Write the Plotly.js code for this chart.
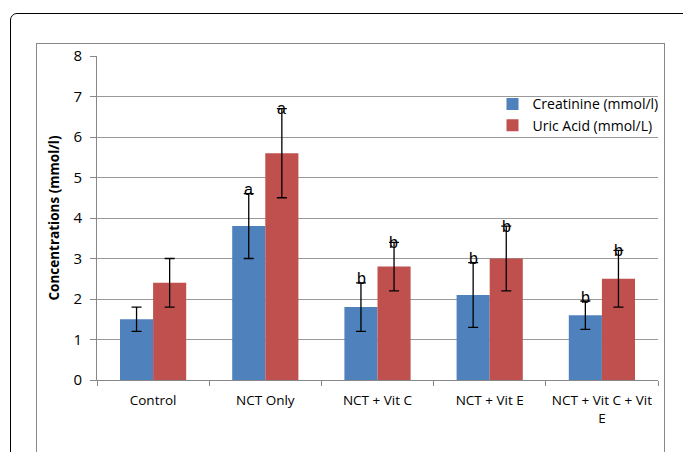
<!DOCTYPE html>
<html><head><meta charset="utf-8">
<script src="https://cdn.plot.ly/plotly-3.0.1.min.js"></script>
<style>
body{margin:0;padding:0;background:#fff;}
#wrap{position:relative;width:683px;height:452px;overflow:hidden;}
#outer{position:absolute;left:10px;top:13px;width:700px;height:500px;border:1.5px solid #000;border-radius:7px;}
#inner{position:absolute;left:36px;top:43px;width:627px;height:500px;border:1px solid #888;}
#chart{position:absolute;left:0;top:0;width:683px;height:452px;}
</style></head>
<body><div id="wrap"><div id="outer"></div><div id="inner"></div><div id="chart"></div></div>
<script>
var categories = ["Control","NCT Only","NCT + Vit C","NCT + Vit E","NCT + Vit C + Vit<br>E"];
var creatinine = [1.5, 3.8, 1.8, 2.1, 1.6];
var creatinineErr = [0.3, 0.8, 0.6, 0.8, 0.35];
var uricAcid = [2.4, 5.6, 2.8, 3.0, 2.5];
var uricAcidErr = [0.6, 1.1, 0.6, 0.8, 0.7];
var creatinineLetters = ["", "a", "b", "b", "b"];
var uricLetters = ["", "a", "b", "b", "b"];

var blue = "#4F81BD", red = "#C0504D";
var traces = [
 {type:"bar", name:"Creatinine (mmol/l)", x:categories, y:creatinine,
  marker:{color:blue}, error_y:{type:"data", array:creatinineErr, visible:true, color:"#000", thickness:1.3, width:5}},
 {type:"bar", name:"Uric Acid (mmol/L)", x:categories, y:uricAcid,
  marker:{color:red}, error_y:{type:"data", array:uricAcidErr, visible:true, color:"#000", thickness:1.3, width:5}}
];
var off = 0.147;
var ann = [];
categories.forEach(function(c,i){
  if(creatinineLetters[i]) ann.push({x:i-off, y:creatinine[i]+creatinineErr[i], xref:"x", yref:"y", text:creatinineLetters[i], showarrow:false, yanchor:"middle", yshift:4, font:{size:16, color:"#000", family:"Liberation Sans, Arial"}});
  if(uricLetters[i]) ann.push({x:i+off, y:uricAcid[i]+uricAcidErr[i], xref:"x", yref:"y", text:uricLetters[i], showarrow:false, yanchor:"middle", yshift:0, font:{size:16, color:"#000", family:"Liberation Sans, Arial"}});
});
var layout = {
  width:683, height:452,
  margin:{l:97, r:25, t:56, b:72, autoexpand:false},
  paper_bgcolor:"rgba(0,0,0,0)", plot_bgcolor:"#fff",
  barmode:"group", bargap:0.41, bargroupgap:0,
  font:{family:"Open Sans, Liberation Sans, Arial", color:"#000"},
  showlegend:true,
  legend:{x:0.705, y:0.9, xanchor:"left", yanchor:"top", bgcolor:"rgba(255,255,255,0)", font:{size:14}, tracegroupgap:0},
  xaxis:{type:"category", automargin:false, showline:true, linecolor:"#888", linewidth:1, ticks:"outside", tickson:"boundaries", ticklen:5, tickcolor:"#888", showgrid:false, tickfont:{size:13.5}, ticklabelstandoff:8, fixedrange:true},
  yaxis:{range:[0,8], dtick:1, automargin:false, showline:true, linecolor:"#888", linewidth:1, ticks:"outside", ticklen:6, tickcolor:"#888", showgrid:true, gridcolor:"#999", gridwidth:1, zeroline:false, tickfont:{size:15}, ticklabelstandoff:5,
    title:{text:"<b>Concentrations (mmol/l)</b>", font:{size:13.5}, standoff:10}},
  annotations:ann
};
Plotly.newPlot("chart", traces, layout, {displayModeBar:false, staticPlot:true});
</script></body></html>
